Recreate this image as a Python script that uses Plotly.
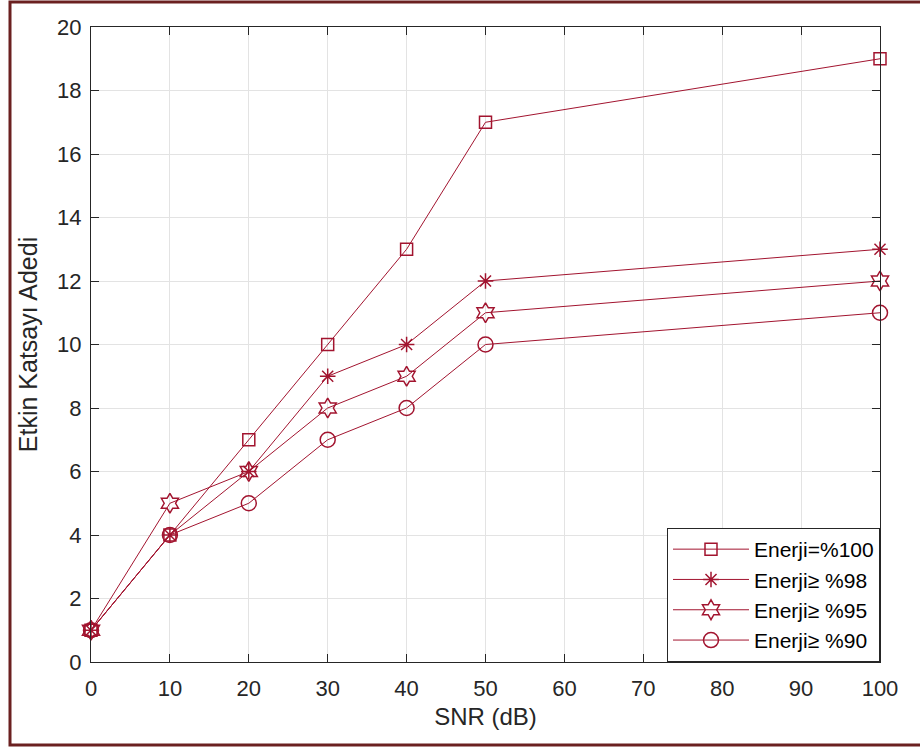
import plotly.graph_objects as go

snr = [0, 10, 20, 30, 40, 50, 100]
e100 = [1, 4, 7, 10, 13, 17, 19]
e98 = [1, 4, 6, 9, 10, 12, 13]
e95 = [1, 5, 6, 8, 9, 11, 12]
e90 = [1, 4, 5, 7, 8, 10, 11]
names = ["Enerji=%100", "Enerji≥ %98", "Enerji≥ %95", "Enerji≥ %90"]
symbols = ["square-open", "asterisk-open", "hexagram-open", "circle-open"]
sizes = [12, 13, 15, 15]
xticks = [0, 10, 20, 30, 40, 50, 60, 70, 80, 90, 100]
yticks = [0, 2, 4, 6, 8, 10, 12, 14, 16, 18, 20]

color = "#A2142F"
FONT = "Liberation Sans, Arial"
fig = go.Figure()
for ys, nm, sym, sz in zip([e100, e98, e95, e90], names, symbols, sizes):
    fig.add_trace(go.Scatter(
        x=snr, y=ys, name=nm, mode="lines+markers",
        line=dict(color=color, width=1),
        marker=dict(symbol=sym, size=sz, color=color, line=dict(color=color, width=1.5)),
        cliponaxis=False,
    ))

axcol = "#262626"
common = dict(showline=True, linecolor=axcol, linewidth=1.2, mirror="ticks",
              ticks="inside", ticklen=8, tickcolor=axcol,
              showgrid=True, gridcolor="#e3e3e3", gridwidth=1, zeroline=False,
              tickfont=dict(family=FONT, size=22, color=axcol))
fig.update_xaxes(range=[0, 100], tickvals=xticks, ticklabelstandoff=6,
                 title=dict(text="SNR (dB)", standoff=8,
                            font=dict(family=FONT, size=24, color=axcol)), **common)
fig.update_yaxes(range=[0, 20], tickvals=yticks, ticklabelstandoff=4,
                 title=dict(text="Etkin Katsayı Adedi", standoff=12,
                            font=dict(family=FONT, size=25, color=axcol)), **common)

L, R, T, B = 91, 40, 27, 85
W, H = 920, 747
pw, ph = W - L - R, H - T - B
bx0 = (10 - L) / pw
bx1 = (W - L) / pw
by0 = (H - B - 745) / ph
by1 = (H - B - 2) / ph
fig.add_shape(type="path", xref="paper", yref="paper",
              path=f"M {bx1},{by1} L {bx0},{by1} L {bx0},{by0} L {bx1},{by0}",
              line=dict(color="#6b2020", width=3), layer="below")

fig.update_layout(
    width=W, height=H, margin=dict(l=L, r=R, t=T, b=B),
    plot_bgcolor="white", paper_bgcolor="white",
    legend=dict(x=1, y=0, xanchor="right", yanchor="bottom",
                bordercolor=axcol, borderwidth=1, bgcolor="white",
                font=dict(family=FONT, size=21, color="black"),
                itemwidth=76, tracegroupgap=0),
)
fig.write_html("out.html", config={"displayModeBar": False},
               post_script="document.body.style.margin='0';")
